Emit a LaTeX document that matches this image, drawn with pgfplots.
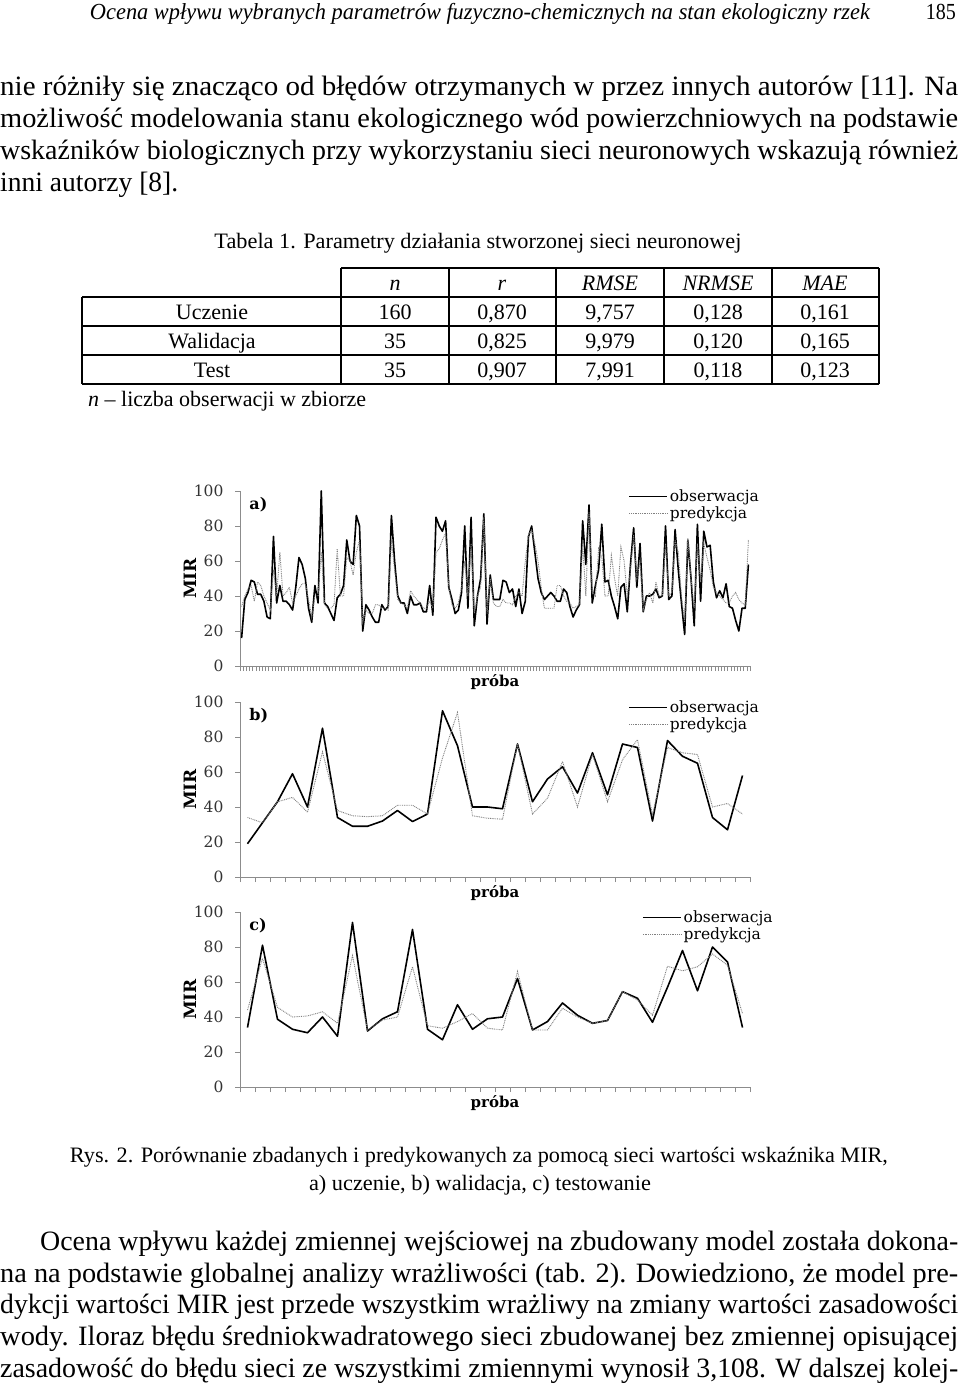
\documentclass[border=0pt]{standalone}
\usepackage{fontspec}
\setmainfont{Liberation Serif}
\newfontfamily\chartfont{DejaVu Serif}
\usepackage{graphicx}
\usepackage{pgfplots}
\usepackage{pgfplotstable}
\pgfplotsset{compat=1.18}

\pgfplotstableread{
i o p
1 16 34
2 38 40
3 42 44
4 49 46
5 48 37
6 41 48
7 41 46
8 37 40
9 28 36
10 27 32
11 74 55
12 36 40
13 46 65
14 37 40
15 37 42
16 35 45
17 32 36
18 45 40
19 62 44
20 58 47
21 50 47
22 33 38
23 25 28
24 46 40
25 36 40
26 100 65
27 36 35
28 34 33
29 30 33
30 26 35
31 39 67
32 41 40
33 46 40
34 72 62
35 60 60
36 58 52
37 86 65
38 80 72
39 20 25
40 35 32
41 32 30
42 28 30
43 25 35
44 25 35
45 35 33
46 32 33
47 34 32
48 86 72
49 60 55
50 40 38
51 36 36
52 36 35
53 30 33
54 40 43
55 35 40
56 35 38
57 36 36
58 31 33
59 31 33
60 46 37
61 29 33
62 85 65
63 80 67
64 77 72
65 83 76
66 45 45
67 38 35
68 30 33
69 32 36
70 42 45
71 80 60
72 33 40
73 85 70
74 23 30
75 40 40
76 50 45
77 87 85
78 24 30
79 52 50
80 38 36
81 38 34
82 38 34
83 49 38
84 48 36
85 42 36
86 44 35
87 34 40
88 44 42
89 30 40
90 37 60
91 74 75
92 80 78
93 65 70
94 50 60
95 42 45
96 38 33
97 40 33
98 42 33
99 40 33
100 37 46
101 37 46
102 44 40
103 42 37
104 34 36
105 28 33
106 32 34
107 35 35
108 83 70
109 58 40
110 92 88
111 36 42
112 46 40
113 55 67
114 81 62
115 48 40
116 49 40
117 40 63
118 34 50
119 27 40
120 45 68
121 47 60
122 31 40
123 58 55
124 79 75
125 45 50
126 70 60
127 31 32
128 40 38
129 40 42
130 41 36
131 44 48
132 39 40
133 40 40
134 80 70
135 38 40
136 40 42
137 78 72
138 55 65
139 36 40
140 18 25
141 72 73
142 50 50
143 23 33
144 81 70
145 37 48
146 77 70
147 68 62
148 69 55
149 48 45
150 39 42
151 43 40
152 39 38
153 47 36
154 34 36
155 33 40
156 26 42
157 20 38
158 33 36
159 33 35
160 58 72
}\dataA

\pgfplotstableread{
i o p
1 19 34
2 31 31
3 43 43
4 59 45.5
5 40 37
6 85 71.5
7 34 38
8 29 35
9 29 34.5
10 32 35
11 38 41
12 31.7 41
13 36 36
14 95 68
15 75 94
16 40 35
17 40 33.6
18 39 33
19 76 76
20 43 36
21 56 45
22 63 66
23 48 40
24 71 70
25 47 43
26 76 67
27 74 78.5
28 32 35.5
29 78 74
30 69 71
31 65 70
32 34 40
33 27 42
34 58 36
}\dataB

\pgfplotstableread{
i o p
1 34 44
2 81 73.5
3 38.7 45.5
4 33 40
5 31 40.6
6 40 43
7 29 36.4
8 94 75
9 32 32.6
10 39 38.3
11 43 40
12 90 68.7
13 33 35
14 27 33.6
15 47 37.4
16 33 42
17 39 33.6
18 40 32.6
19 62 66
20 32.6 32.6
21 37.4 32.6
22 48 45
23 41 40
24 36.4 36.4
25 38 38
26 54.5 54.5
27 50.7 49.7
28 37 41
29 57 69
30 78 66.4
31 55 68.7
32 80 76
33 71.5 69.6
34 34 42
}\dataC

\pgfplotsset{
  mirstyle/.style={
    scale only axis, width=510pt, height=175pt,
    ymin=0, ymax=100, ytick={0,20,...,100},
    axis lines*=left, axis line style={black!45, line width=0.8pt, -},
    tick style={black!45, line width=0.6pt}, tick align=outside,
    major tick length=5pt,
    xticklabels={},
    yticklabel style={font=\chartfont\fontsize{15.5}{16}\selectfont, xshift=-8pt, text=black!80},
    /pgf/number format/assume math mode=true,
    clip=false,
    ylabel={MIR},
    every axis y label/.style={at={(axis description cs:-0.098,0.5)}, rotate=90, anchor=center,
      font=\chartfont\bfseries\fontsize{17}{18}\selectfont},
    xlabel={próba},
    every axis x label/.style={at={(axis description cs:0.5,0)}, anchor=base, yshift=-20pt,
      font=\chartfont\bfseries\fontsize{15}{16}\selectfont},
    legend style={draw=none, fill=none, anchor=north west, inner sep=0pt,
      font=\chartfont\fontsize{15.5}{16}\selectfont, row sep=0pt,
      /tikz/every even column/.append style={column sep=3pt}},
    legend cell align=left,
    legend image code/.code={\draw[##1] (0pt,0pt) -- (38pt,0pt);},
  },
  obs/.style={black, line width=1.6pt, line join=round},
  pred/.style={black!50, line width=0.9pt, dash pattern=on 0.9pt off 0.9pt},
}

\begin{document}
\begin{tikzpicture}
\path[use as bounding box] (0pt,0pt) rectangle (960pt,-1385pt);
\begin{scope}[x=1pt,y=-1pt]
% header
\node[anchor=base, inner sep=0] at (480,19) {\resizebox{780pt}{\height}{\itshape\fontsize{23}{26}\selectfont Ocena wpływu wybranych parametrów fuzyczno-chemicznych na stan ekologiczny rzek}};
\node[anchor=base east, inner sep=0] at (956,19) {\resizebox{30pt}{\height}{\fontsize{23}{26}\selectfont 185}};
% body top
\node[anchor=base west, inner sep=0] at (0,95) {\resizebox{958pt}{\height}{\fontsize{28}{32}\selectfont nie różniły się znacząco od błędów otrzymanych w przez innych autorów [11]. Na}};
\node[anchor=base west, inner sep=0] at (0,127) {\resizebox{958pt}{\height}{\fontsize{28}{32}\selectfont możliwość modelowania stanu ekologicznego wód powierzchniowych na podstawie}};
\node[anchor=base west, inner sep=0] at (0,159) {\resizebox{958pt}{\height}{\fontsize{28}{32}\selectfont wskaźników biologicznych przy wykorzystaniu sieci neuronowych wskazują również}};
\node[anchor=base west, inner sep=0] at (0,191) {\resizebox{178pt}{\height}{\fontsize{28}{32}\selectfont inni autorzy [8].}};
% table caption
\node[anchor=base, inner sep=0] at (478,248) {\resizebox{527pt}{\height}{\fontsize{22}{25}\selectfont Tabela 1. Parametry działania stworzonej sieci neuronowej}};
% table lines
\draw[line width=1.1pt] (341,268) -- (879,268);
\foreach \yy in {297,326,355,384} \draw[line width=1.1pt] (82,\yy) -- (879,\yy);
\foreach \xx in {341,449,556,664,772,879} \draw[line width=1.1pt] (\xx,268) -- (\xx,384);
\draw[line width=1.1pt] (82,297) -- (82,384);
\begin{scope}[every node/.style={anchor=base, inner sep=0, font=\fontsize{22}{25}\selectfont}]
\node at (395,290) {\textit{n}};
\node at (502,290) {\textit{r}};
\node at (610,290) {\textit{RMSE}};
\node at (718,290) {\textit{NRMSE}};
\node at (825,290) {\textit{MAE}};
\node at (212,319) {Uczenie};
\node at (395,319) {160};
\node at (502,319) {0,870};
\node at (610,319) {9,757};
\node at (718,319) {0,128};
\node at (825,319) {0,161};
\node at (212,348) {Walidacja};
\node at (395,348) {35};
\node at (502,348) {0,825};
\node at (610,348) {9,979};
\node at (718,348) {0,120};
\node at (825,348) {0,165};
\node at (212,377) {Test};
\node at (395,377) {35};
\node at (502,377) {0,907};
\node at (610,377) {7,991};
\node at (718,377) {0,118};
\node at (825,377) {0,123};
\node[anchor=base west] at (88,406) {\textit{n} – liczba obserwacji w zbiorze};
\end{scope}
% figure caption
\node[anchor=base, inner sep=0] at (479,1162) {\resizebox{818pt}{\height}{\fontsize{22}{25}\selectfont Rys. 2. Porównanie zbadanych i predykowanych za pomocą sieci wartości wskaźnika MIR,}};
\node[anchor=base, inner sep=0] at (480,1190) {\resizebox{342pt}{\height}{\fontsize{22}{25}\selectfont a) uczenie, b) walidacja, c) testowanie}};
% bottom text
\node[anchor=base west, inner sep=0] at (40,1250) {\resizebox{918pt}{\height}{\fontsize{28}{32}\selectfont Ocena wpływu każdej zmiennej wejściowej na zbudowany model została dokona-}};
\node[anchor=base west, inner sep=0] at (0,1282) {\resizebox{958pt}{\height}{\fontsize{28}{32}\selectfont na na podstawie globalnej analizy wrażliwości (tab. 2). Dowiedziono, że model pre-}};
\node[anchor=base west, inner sep=0] at (0,1313) {\resizebox{958pt}{\height}{\fontsize{28}{32}\selectfont dykcji wartości MIR jest przede wszystkim wrażliwy na zmiany wartości zasadowości}};
\node[anchor=base west, inner sep=0] at (0,1345) {\resizebox{958pt}{\height}{\fontsize{28}{32}\selectfont wody. Iloraz błędu średniokwadratowego sieci zbudowanej bez zmiennej opisującej}};
\node[anchor=base west, inner sep=0] at (0,1377) {\resizebox{958pt}{\height}{\fontsize{28}{32}\selectfont zasadowość do błędu sieci ze wszystkimi zmiennymi wynosił 3,108. W dalszej kolej-}};
\end{scope}

% chart a
\begin{axis}[mirstyle, at={(240pt,-666pt)}, anchor=south west,
  xmin=0.5, xmax=160.5, xtick={0.5,1.5,...,160.5},
  legend style={at={(rel axis cs:0.761,1.02)}}]
\addplot[obs] table[x=i,y=o] {\dataA};
\addlegendentry{obserwacja}
\addplot[pred] table[x=i,y=p] {\dataA};
\addlegendentry{predykcja}
\node[anchor=west, inner sep=0, font=\chartfont\bfseries\fontsize{16}{17}\selectfont] at (axis description cs:0.018,0.92) {a)};
\end{axis}

% chart b
\begin{axis}[mirstyle, at={(240pt,-877pt)}, anchor=south west,
  xmin=0.5, xmax=34.5, xtick={0.5,1.5,...,34.5},
  legend style={at={(rel axis cs:0.761,1.02)}}]
\addplot[obs] table[x=i,y=o] {\dataB};
\addlegendentry{obserwacja}
\addplot[pred] table[x=i,y=p] {\dataB};
\addlegendentry{predykcja}
\node[anchor=west, inner sep=0, font=\chartfont\bfseries\fontsize{16}{17}\selectfont] at (axis description cs:0.018,0.92) {b)};
\end{axis}

% chart c
\begin{axis}[mirstyle, at={(240pt,-1087pt)}, anchor=south west,
  xmin=0.5, xmax=34.5, xtick={0.5,1.5,...,34.5},
  legend style={at={(rel axis cs:0.788,1.02)}}]
\addplot[obs] table[x=i,y=o] {\dataC};
\addlegendentry{obserwacja}
\addplot[pred] table[x=i,y=p] {\dataC};
\addlegendentry{predykcja}
\node[anchor=west, inner sep=0, font=\chartfont\bfseries\fontsize{16}{17}\selectfont] at (axis description cs:0.018,0.92) {c)};
\end{axis}
\end{tikzpicture}
\end{document}
